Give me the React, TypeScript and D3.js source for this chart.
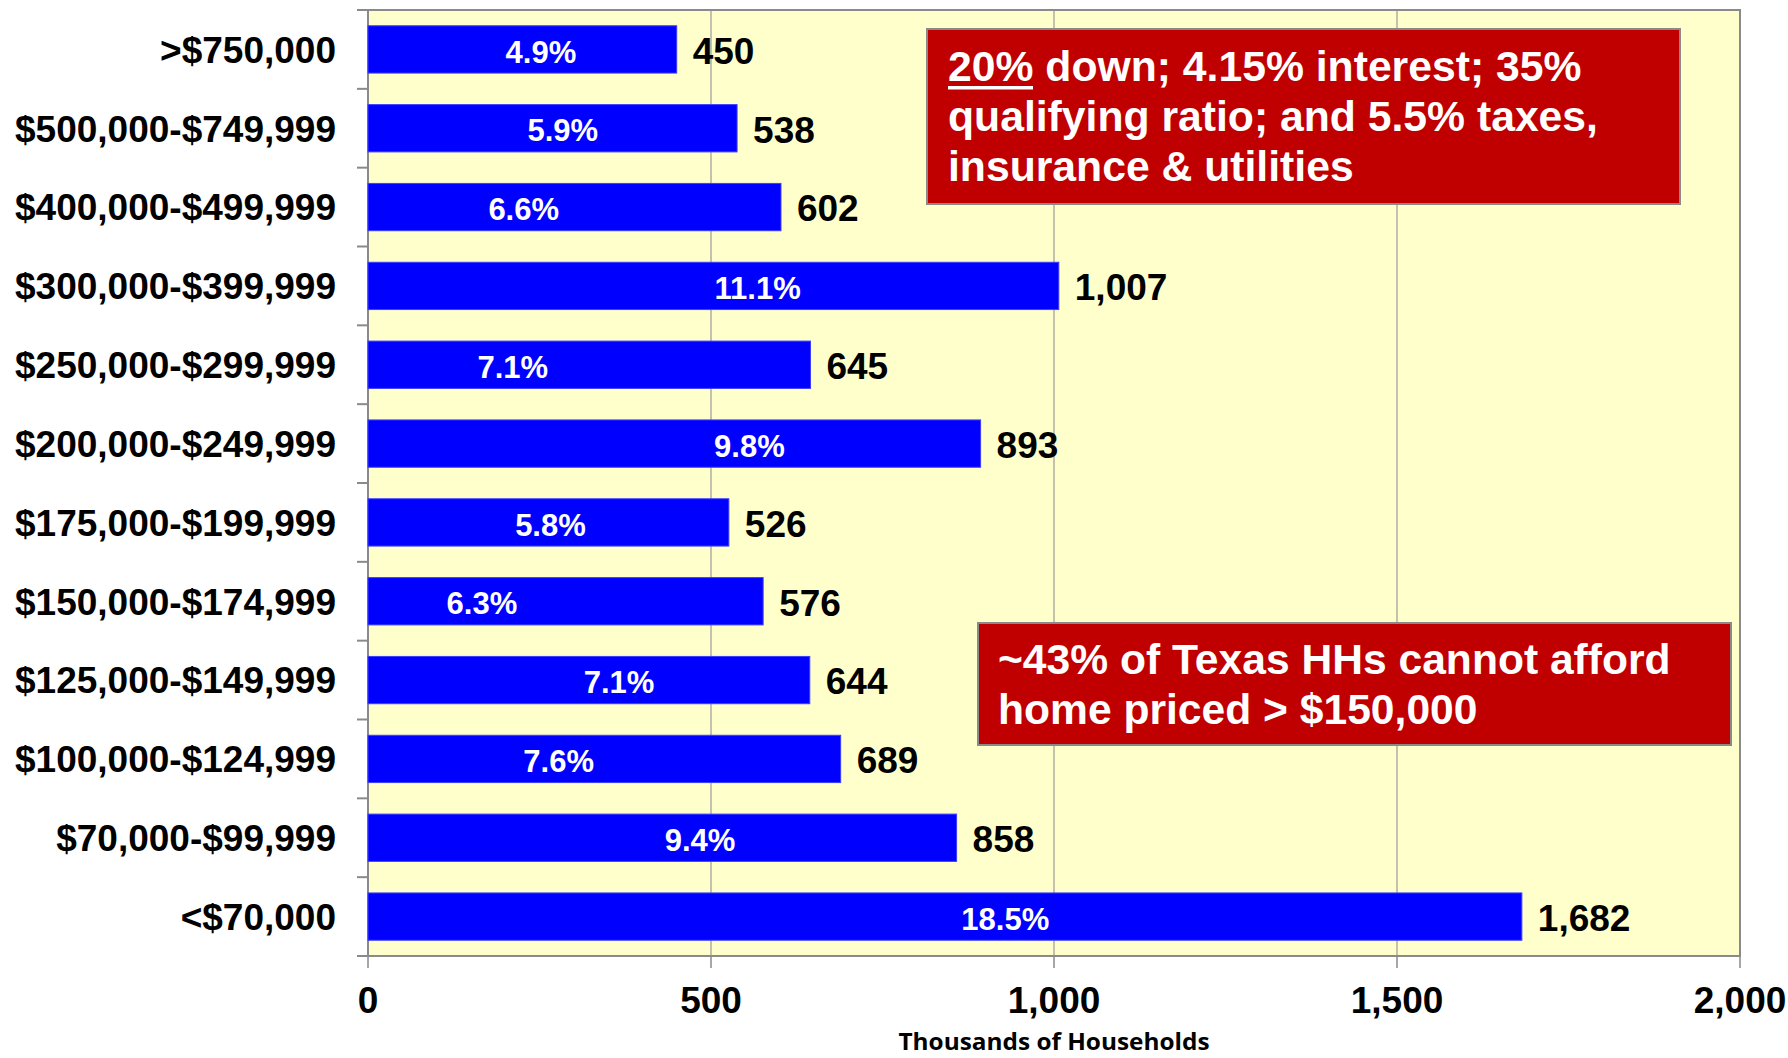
import React from 'react';
import * as d3 from 'd3';

// price bands, top to bottom
const categories = [
  '>$750,000',
  '$500,000-$749,999',
  '$400,000-$499,999',
  '$300,000-$399,999',
  '$250,000-$299,999',
  '$200,000-$249,999',
  '$175,000-$199,999',
  '$150,000-$174,999',
  '$125,000-$149,999',
  '$100,000-$124,999',
  '$70,000-$99,999',
  '<$70,000'
];

// thousands of households
const households = [450, 538, 602, 1007, 645, 893, 526, 576, 644, 689, 858, 1682];

const shares = ['4.9%', '5.9%', '6.6%', '11.1%', '7.1%', '9.8%', '5.8%', '6.3%', '7.1%', '7.6%', '9.4%', '18.5%'];

// where each share label sits along the bar, in thousands (as placed in the original)
const shareAt = [252, 284, 227, 568, 211, 556, 266, 166, 366, 278, 484, 929];

const xTicks = [0, 500, 1000, 1500, 2000];

const note1 = ['down; 4.15% interest; 35%', 'qualifying ratio; and 5.5% taxes,', 'insurance & utilities'];
const note2 = ['~43% of Texas HHs cannot afford', 'home priced > $150,000'];

export default function App() {
  const width = 1788, height = 1058;
  const margin = { top: 10, right: 48, bottom: 102, left: 368 };
  const x0 = margin.left, x1 = width - margin.right;
  const y0 = margin.top, y1 = height - margin.bottom;

  const x = d3.scaleLinear().domain([0, 2000]).range([x0, x1]);
  const y = d3.scaleBand().domain(categories).range([y0, y1]).paddingInner(0.4).paddingOuter(0.2);
  const step = y.step();
  const fmt = d3.format(',');
  const font = 'Arial, "Liberation Sans", sans-serif';

  return (
    <svg width={width} height={height} style={{ position: 'absolute', left: 0, top: 0 }} fontFamily={font}>
      <rect x={0} y={0} width={width} height={height} fill="#fff" />
      <rect x={x0} y={y0} width={x1 - x0} height={y1 - y0} fill="#ffffcc" />

      {/* grid */}
      {xTicks.slice(1, -1).map(t => (
        <line key={'g' + t} x1={x(t)} x2={x(t)} y1={y0} y2={y1} stroke="#999" strokeWidth={1.2} />
      ))}

      {/* frame */}
      <rect x={x0} y={y0} width={x1 - x0} height={y1 - y0} fill="none" stroke="#8a8a8a" strokeWidth={2} />

      {/* category ticks */}
      {d3.range(categories.length + 1).map(i => (
        <line key={'ct' + i} x1={x0 - 11} x2={x0} y1={y0 + i * step} y2={y0 + i * step} stroke="#8a8a8a" strokeWidth={2} />
      ))}

      {/* x ticks */}
      {xTicks.map(t => (
        <g key={'xt' + t}>
          <line x1={x(t)} x2={x(t)} y1={y1} y2={y1 + 12} stroke="#8a8a8a" strokeWidth={1.5} />
          <text x={x(t)} y={y1 + 57} textAnchor="middle" fontSize={37} fontWeight="bold" fill="#000">{fmt(t)}</text>
        </g>
      ))}
      <text x={(x0 + x1) / 2} y={1050} textAnchor="middle" fontSize={24} fontWeight="bold"
        fontFamily='"Open Sans", sans-serif' textLength={311} lengthAdjust="spacingAndGlyphs">Thousands of Households</text>

      {/* bars */}
      {categories.map((c, i) => {
        const by = y(c)!;
        const cy = by + y.bandwidth() / 2;
        return (
          <g key={c}>
            <text x={x0 - 32} y={cy} dy="0.36em" textAnchor="end" fontSize={37} fontWeight="bold" fill="#000">{c}</text>
            <rect x={x(0)} y={by} width={x(households[i]) - x(0)} height={y.bandwidth()} fill="#0000ff" stroke="#3d3dff" strokeWidth={1} />
            <text x={x(shareAt[i])} y={cy + 2} dy="0.36em" textAnchor="middle" fontSize={31} fontWeight="bold" fill="#fff">{shares[i]}</text>
            <text x={x(households[i]) + 16} y={cy + 1} dy="0.36em" textAnchor="start" fontSize={37} fontWeight="bold" fill="#000">{fmt(households[i])}</text>
          </g>
        );
      })}

      {/* note boxes */}
      <rect x={927} y={29} width={753} height={175} fill="#c00000" stroke="#8a8a8a" strokeWidth={2} />
      <text x={948} y={81} fontSize={42.7} fontWeight="bold" fill="#fff">
        <tspan>20%</tspan><tspan> {note1[0]}</tspan>
      </text>
      <rect x={948} y={86} width={85} height={3.5} fill="#fff" />
      <text x={948} y={131} fontSize={42.7} fontWeight="bold" fill="#fff">{note1[1]}</text>
      <text x={948} y={181} fontSize={42.7} fontWeight="bold" fill="#fff">{note1[2]}</text>

      <rect x={978} y={623} width={753} height={122} fill="#c00000" stroke="#8a8a8a" strokeWidth={2} />
      {note2.map((l, i) => (
        <text key={l} x={998} y={674 + i * 50} fontSize={42.6} fontWeight="bold" fill="#fff">{l}</text>
      ))}
    </svg>
  );
}
